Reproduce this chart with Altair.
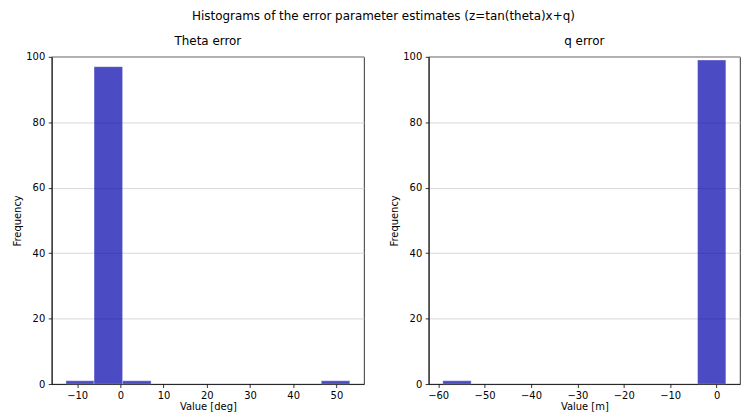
import altair as alt
import pandas as pd

# Histogram data
theta_bin_start = [-12.6, -6.1, 0.5, 7.1, 13.7, 20.2, 26.8, 33.4, 40.0, 46.5]
theta_bin_end = [-6.1, 0.5, 7.1, 13.7, 20.2, 26.8, 33.4, 40.0, 46.5, 53.1]
theta_counts = [1, 97, 1, 0, 0, 0, 0, 0, 0, 1]

q_bin_start = [-59.0, -52.9, -46.8, -40.7, -34.6, -28.5, -22.4, -16.3, -10.2, -4.1]
q_bin_end = [-52.9, -46.8, -40.7, -34.6, -28.5, -22.4, -16.3, -10.2, -4.1, 2.0]
q_counts = [1, 0, 0, 0, 0, 0, 0, 0, 0, 99]

theta_ticks = [-10, 0, 10, 20, 30, 40, 50]
q_ticks = [-60, -50, -40, -30, -20, -10, 0]
y_ticks = [0, 20, 40, 60, 80, 100]

theta_df = pd.DataFrame({"start": theta_bin_start, "end": theta_bin_end, "count": theta_counts})
q_df = pd.DataFrame({"start": q_bin_start, "end": q_bin_end, "count": q_counts})

FONT = "DejaVu Sans"
BAR = "#0000ab"
minus_expr = "replace(datum.label, '-', '\u2212')"


def panel(df, title, xdomain, xticks, xtitle, w):
    return (
        alt.Chart(df)
        .transform_filter("datum.count > 0")
        .mark_bar(color=BAR, opacity=0.7, stroke="#ffffff", strokeWidth=0.8, strokeOpacity=0.4)
        .encode(
            x=alt.X(
                "start:Q",
                scale=alt.Scale(domain=xdomain, nice=False, zero=False),
                axis=alt.Axis(values=xticks, format="d", labelExpr=minus_expr, title=xtitle, grid=False),
            ),
            x2="end:Q",
            y=alt.Y(
                "count:Q",
                scale=alt.Scale(domain=[0, 100], nice=False),
                axis=alt.Axis(values=y_ticks, title="Frequency", grid=True),
            ),
            y2=alt.datum(0),
        )
        .properties(
            width=w,
            height=329,
            title=alt.TitleParams(title, fontSize=12, font=FONT, fontWeight="normal", color="black", offset=4),
        )
    )


left = panel(theta_df, "Theta error", [-15.9, 56.4], theta_ticks, "Value [deg]", 314)
right = panel(q_df, "q error", [-62.05, 5.05], q_ticks, "Value [m]", 313)

chart = (
    alt.hconcat(left, right, spacing=24)
    .properties(
        title=alt.TitleParams(
            "Histograms of the error parameter estimates (z=tan(theta)x+q)",
            fontSize=12, font=FONT, fontWeight="normal", color="black", anchor="middle",
            offset=12, dx=7,
        ),
        padding={"left": 12, "top": 8, "right": 0, "bottom": 0},
    )
    .configure_view(stroke="black", strokeWidth=0.8)
    .configure_axis(
        labelFont=FONT, titleFont=FONT, labelFontSize=10, titleFontSize=10,
        labelColor="black", titleColor="black", titleFontWeight="normal",
        tickColor="black", tickSize=3.5, tickWidth=0.8, labelPadding=3.5,
        domain=True, domainColor="black", domainWidth=0.8,
        gridColor="#cccccc", gridWidth=0.8, titlePadding=4,
    )
    .configure_axisX(titlePadding=1)
    .configure_axisY(minExtent=25, maxExtent=25, titlePadding=4)
)

chart.save("out.html", embed_options={"renderer": "svg", "actions": False})
